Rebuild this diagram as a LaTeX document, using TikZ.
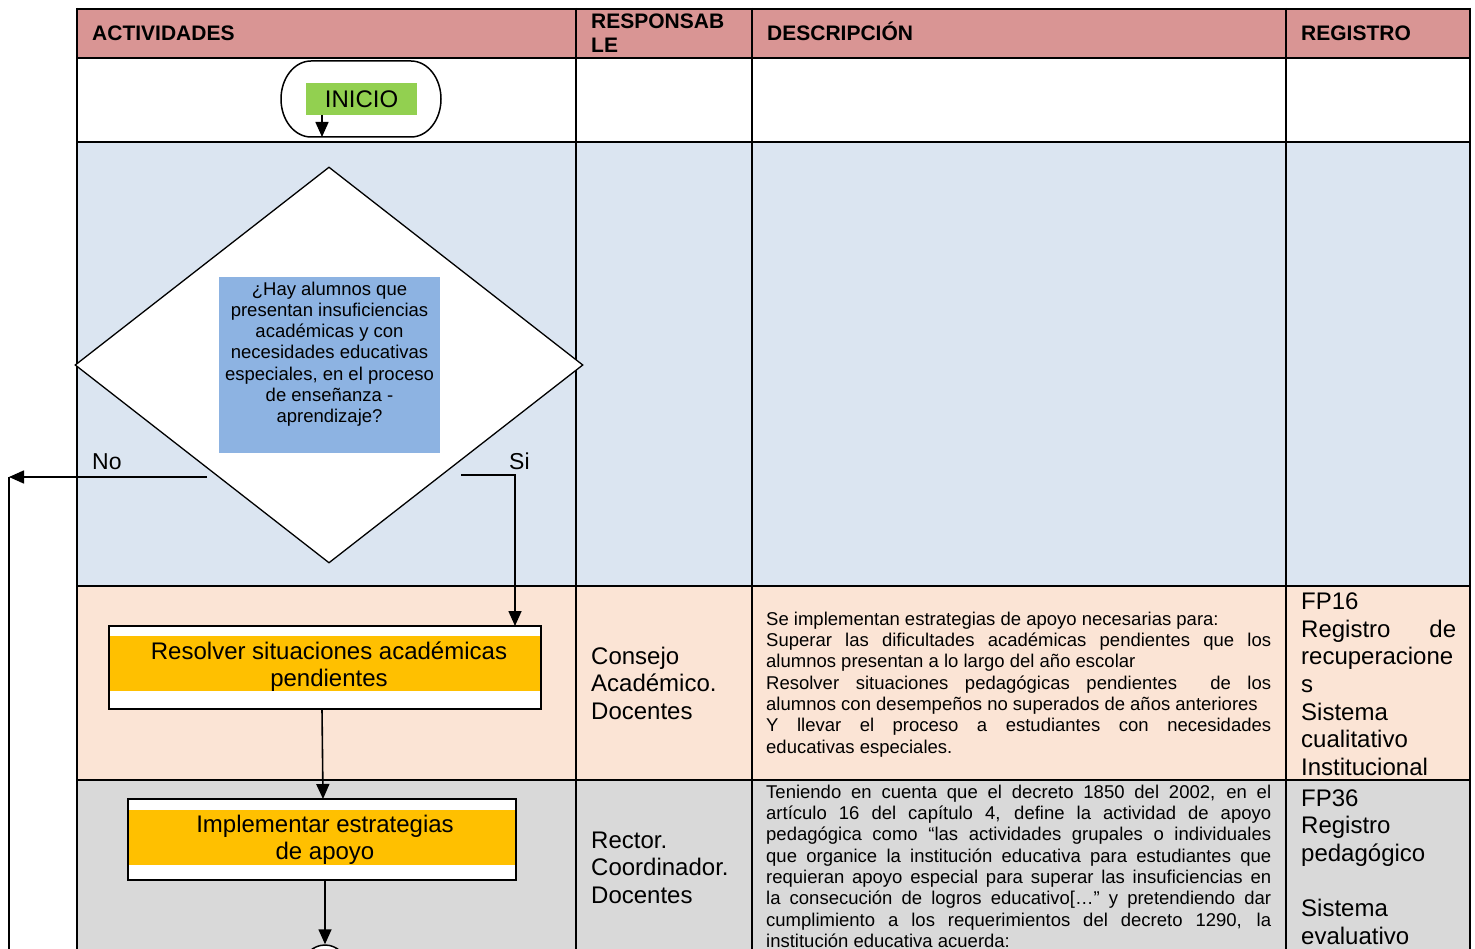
\documentclass[tikz,border=0pt]{standalone}
\usepackage{fontspec}
\setmainfont{Liberation Sans}
\usetikzlibrary{arrows.meta,shapes.geometric}
\definecolor{hdr}{HTML}{D99594}
\definecolor{rowblue}{HTML}{DBE5F1}
\definecolor{rowpeach}{HTML}{FBE4D5}
\definecolor{rowgray}{HTML}{D9D9D9}
\definecolor{grn}{HTML}{92D050}
\definecolor{ylw}{HTML}{FFC000}
\definecolor{qblue}{HTML}{8DB3E2}
\newcommand\fsz[2]{\fontsize{#1}{#2}\selectfont}
\newcommand\jl[2]{\makebox[#1][s]{#2}}
\begin{document}
\begin{tikzpicture}[x=1pt,y=-1pt,
  grid/.style={line width=2pt,black},
  hdrtxt/.style={anchor=base west,inner sep=0,font=\fsz{21}{24}\bfseries},
  celltxt/.style={anchor=north west,inner sep=0,align=left,font=\fsz{24}{27.6}},
  desctxt/.style={anchor=north west,inner sep=0,align=left,font=\fsz{18.5}{21.35}},
  arr/.style={line width=1.6pt,-{Triangle[length=15pt,width=13pt]}},
  plainline/.style={line width=1.6pt},
  outerbox/.style={draw=black,line width=1.5pt,fill=white,inner sep=0},
  band/.style={fill=ylw,inner sep=0},
]
\useasboundingbox (0,0) rectangle (1475,949);
\clip (0,0) rectangle (1475,949);
\fill[white] (0,0) rectangle (1475,949);
% row fills
\fill[hdr] (77,9) rectangle (1470,58);
\fill[rowblue] (77,142) rectangle (1470,586);
\fill[rowpeach] (77,586) rectangle (1470,780);
\fill[rowgray] (77,780) rectangle (1470,960);
% grid
\foreach \yy in {9,58,142,586,780} \draw[grid] (76,\yy) -- (1471,\yy);
\foreach \xx in {77,576,752,1286,1470} \draw[grid] (\xx,8) -- (\xx,960);
% header texts
\node[hdrtxt] (hAct) at (92,41) {ACTIVIDADES};
\node[anchor=north west,inner sep=0,align=left,font=\fsz{21}{24}\bfseries] (hResp) at (591,11.2) {\strut RESPONSAB\\LE};
\node[hdrtxt] (hDesc) at (767,41) {DESCRIPCIÓN};
\node[hdrtxt] (hReg) at (1301,41) {REGISTRO};
% start terminal
\node[minimum width=160pt,minimum height=76pt,inner sep=0] (inicio) at (361,99) {};
\draw[line width=1.5pt,fill=white] (311,61) -- (411,61)
  arc[start angle=90,end angle=-90,x radius=30pt,y radius=38pt]
  -- (311,137)
  arc[start angle=270,end angle=90,x radius=30pt,y radius=38pt] -- cycle;
\node[fill=grn,minimum width=111pt,minimum height=32pt,inner sep=0,font=\fsz{24}{27}] (inicioLbl) at (361.5,99) {INICIO};
\coordinate (a1s) at (322,115);
\coordinate (a1e) at (322,137);
\draw[arr] (a1s) -- (a1e);
% decision
\node[diamond,draw=black,line width=1.3pt,fill=white,minimum width=508pt,minimum height=396pt,inner sep=0] (dec) at (329,365) {};
\node[fill=qblue,minimum width=221pt,minimum height=176pt,inner sep=0] (qbox) at (329.5,365) {};
\node[anchor=north,inner sep=0,align=center,font=\fsz{18.5}{21.2}] (qtxt) at (329.5,280.2) {\strut ¿Hay alumnos que\\presentan insuficiencias\\académicas y con\\necesidades educativas\\especiales, en el proceso\\de enseñanza -\\aprendizaje?};
\node[anchor=base west,inner sep=0,font=\fsz{23}{26}] (noLbl) at (92,469) {No};
\node[anchor=base west,inner sep=0,font=\fsz{23}{26}] (siLbl) at (509,469) {Si};
\coordinate (noStart) at (207,477);
\coordinate (noCorner) at (9,477);
\coordinate (noBottom) at (9,960);
\draw[arr] (noStart) -- (noCorner);
\draw[plainline] (noCorner) -- (noBottom);
% resolver
\node[outerbox,minimum width=432pt,minimum height=83pt] (resolver) at (325,667.5) {};
\node[band,minimum width=430pt,minimum height=55pt] (resBand) at (325,663.5) {};
\node[anchor=north,inner sep=0,align=center,font=\fsz{24}{27}] (resTxt) at (329,640.1) {\strut Resolver situaciones académicas\\pendientes};
\coordinate (siStart) at (461,475);
\coordinate (siEnd) at (515,626);
\draw[arr] (siStart) -| (siEnd);
% implementar
\node[outerbox,minimum width=388pt,minimum height=81pt] (impl) at (322,839.5) {};
\node[band,minimum width=386pt,minimum height=55pt] (implBand) at (322,837.5) {};
\node[anchor=north,inner sep=0,align=center,font=\fsz{24}{27.6}] (implTxt) at (325,812.5) {\strut Implementar estrategias\\de apoyo};
\coordinate (r2s) at (322,709);
\coordinate (r2e) at (323,799);
\draw[arr] (r2s) -- (r2e);
\node[circle,draw=black,line width=1.5pt,fill=white,minimum size=44pt,inner sep=0] (endc) at (325,967) {};
\coordinate (i2s) at (325,880);
\draw[arr] (i2s) -- (endc.north);
% responsables
\node[celltxt] (resp1) at (591,644.7) {\strut Consejo\\Académico.\\Docentes};
\node[celltxt] (resp2) at (591,828.7) {\strut Rector.\\Coordinador.\\Docentes};
% descripciones
\node[desctxt] (desc1) at (766,610.05) {\strut Se implementan estrategias de apoyo necesarias para:\\
\jl{505pt}{Superar las dificultades académicas pendientes que los}\\
alumnos presentan a lo largo del año escolar\\
\jl{505pt}{Resolver situaciones pedagógicas pendientes \ de los}\\
alumnos con desempeños no superados de años anteriores\\
\jl{505pt}{Y llevar el proceso a estudiantes con necesidades}\\
educativas especiales.};
\node[desctxt] (desc2) at (766,783.05) {\strut\jl{505pt}{Teniendo en cuenta que el decreto 1850 del 2002, en el}\\
\jl{505pt}{artículo 16 del capítulo 4, define la actividad de apoyo}\\
\jl{505pt}{pedagógica como “las actividades grupales o individuales}\\
\jl{505pt}{que organice la institución educativa para estudiantes que}\\
\jl{505pt}{requieran apoyo especial para superar las insuficiencias en}\\
\jl{505pt}{la consecución de logros educativo[…” y pretendiendo dar}\\
\jl{505pt}{cumplimiento a los requerimientos del decreto 1290, la}\\
institución educativa acuerda:};
% registros
\node[celltxt] (reg1) at (1301,590.2) {\strut FP16\\\jl{155pt}{Registro de}\\recuperacione\\s\\Sistema\\cualitativo\\Institucional};
\node[celltxt] (reg2) at (1301,786.7) {\strut FP36\\Registro\\pedagógico\\\mbox{}\\Sistema\\evaluativo};
\end{tikzpicture}
\end{document}
